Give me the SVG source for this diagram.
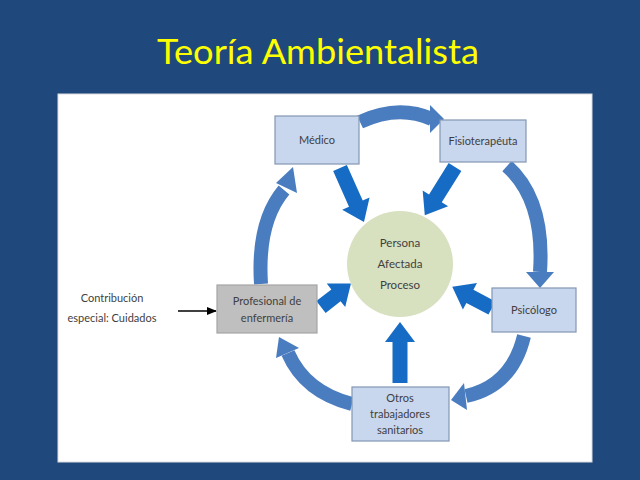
<svg xmlns="http://www.w3.org/2000/svg" width="640" height="480" viewBox="0 0 640 480">
<defs>
<style>
.box{fill:#c8d6ee;stroke:#8396b2;stroke-width:1.2}
.gray{fill:#bfbfbf;stroke:#a5a5a5;stroke-width:1.2}
.t{font-family:Lato,"Open Sans","Liberation Sans",sans-serif;font-size:11px;fill:#3f3f3f;text-anchor:middle}
.arc{fill:none;stroke:#4a7dbf;stroke-width:14}
.head{fill:#4a7dbf}
.fat{fill:#166cc4}
</style>
<marker id="blk" markerWidth="10" markerHeight="8" refX="9" refY="4" orient="auto" markerUnits="userSpaceOnUse">
<path d="M0,0 L10,4 L0,8 Z" fill="#000"/>
</marker>
</defs>
<rect width="640" height="480" fill="#1f497d"/>
<text x="318" y="64" font-family="Lato,'Open Sans',sans-serif" font-size="35" fill="#ffff00" text-anchor="middle" textLength="322" lengthAdjust="spacingAndGlyphs">Teoría Ambientalista</text>
<rect x="58" y="94" width="534" height="368" fill="#ffffff" stroke="#dcdcdc"/>

<g id="connectors">
<!-- cycle arcs -->
<path class="arc" d="M360 122 Q398 104 432 119"/>
<polygon class="head" points="430,105 444,119 430,133"/>
<path class="arc" d="M507 166 Q545 200 540 272"/>
<polygon class="head" points="526,272 540,288 554,272"/>
<path class="arc" d="M524 336 Q512 386 466 396"/>
<polygon class="head" points="464,383 451,400 467,410"/>
<path class="arc" d="M352 404 Q305 392 288 353"/>
<polygon class="head" points="276,358 279,337 299,348"/>
<path class="arc" d="M261 284 Q257 222 284 190"/>
<polygon class="head" points="276,183 293,167 297,193"/>
<!-- inward arrows -->
<path class="fat" transform="translate(340,168) rotate(66)" d="M0,-7.5 H39 V-15 L59,0 L39,15 V7.5 H0 Z"/>
<path class="fat" transform="translate(455,167) rotate(122)" d="M0,-7.5 H37 V-15 L57,0 L37,15 V7.5 H0 Z"/>
<path class="fat" transform="translate(321,307) rotate(-38)" d="M0,-7.5 H19 V-15 L38,0 L19,15 V7.5 H0 Z"/>
<path class="fat" transform="translate(492,308) rotate(-152)" d="M0,-7.5 H25 V-15 L45,0 L25,15 V7.5 H0 Z"/>
<path class="fat" transform="translate(400,383) rotate(-90)" d="M0,-7.5 H41 V-15 L61,0 L41,15 V7.5 H0 Z"/>
<!-- contribution arrow -->
<line x1="178" y1="311" x2="216" y2="311" stroke="#000" stroke-width="1.3" marker-end="url(#blk)"/>
</g>

<g id="centro">
<circle cx="400" cy="264" r="53" fill="#d7e0bf"/>
<text class="t" x="400" y="247" style="font-size:11.5px">Persona</text>
<text class="t" x="400" y="268" style="font-size:11.5px">Afectada</text>
<text class="t" x="400" y="289" style="font-size:11.5px">Proceso</text>
</g>
<g id="medico">
<rect class="box" x="275" y="116" width="84" height="48"/>
<text class="t" x="317" y="144">Médico</text>
</g>
<g id="fisio">
<rect class="box" x="440" y="120" width="86" height="42"/>
<text class="t" x="483" y="145">Fisioterapéuta</text>
</g>
<g id="psicologo">
<rect class="box" x="492" y="288" width="84" height="44"/>
<text class="t" x="534" y="314">Psicólogo</text>
</g>
<g id="otros">
<rect class="box" x="352" y="387" width="97" height="54"/>
<text class="t" x="400" y="402">Otros</text>
<text class="t" x="400" y="418">trabajadores</text>
<text class="t" x="400" y="434">sanitarios</text>
</g>
<g id="profesional">
<rect class="gray" x="217" y="285" width="100" height="48"/>
<text class="t" x="267" y="305">Profesional de</text>
<text class="t" x="267" y="322">enfermería</text>
</g>
<g id="contribucion">
<text class="t" x="112" y="302">Contribución</text>
<text class="t" x="112" y="322">especial: Cuidados</text>
</g>
</svg>
